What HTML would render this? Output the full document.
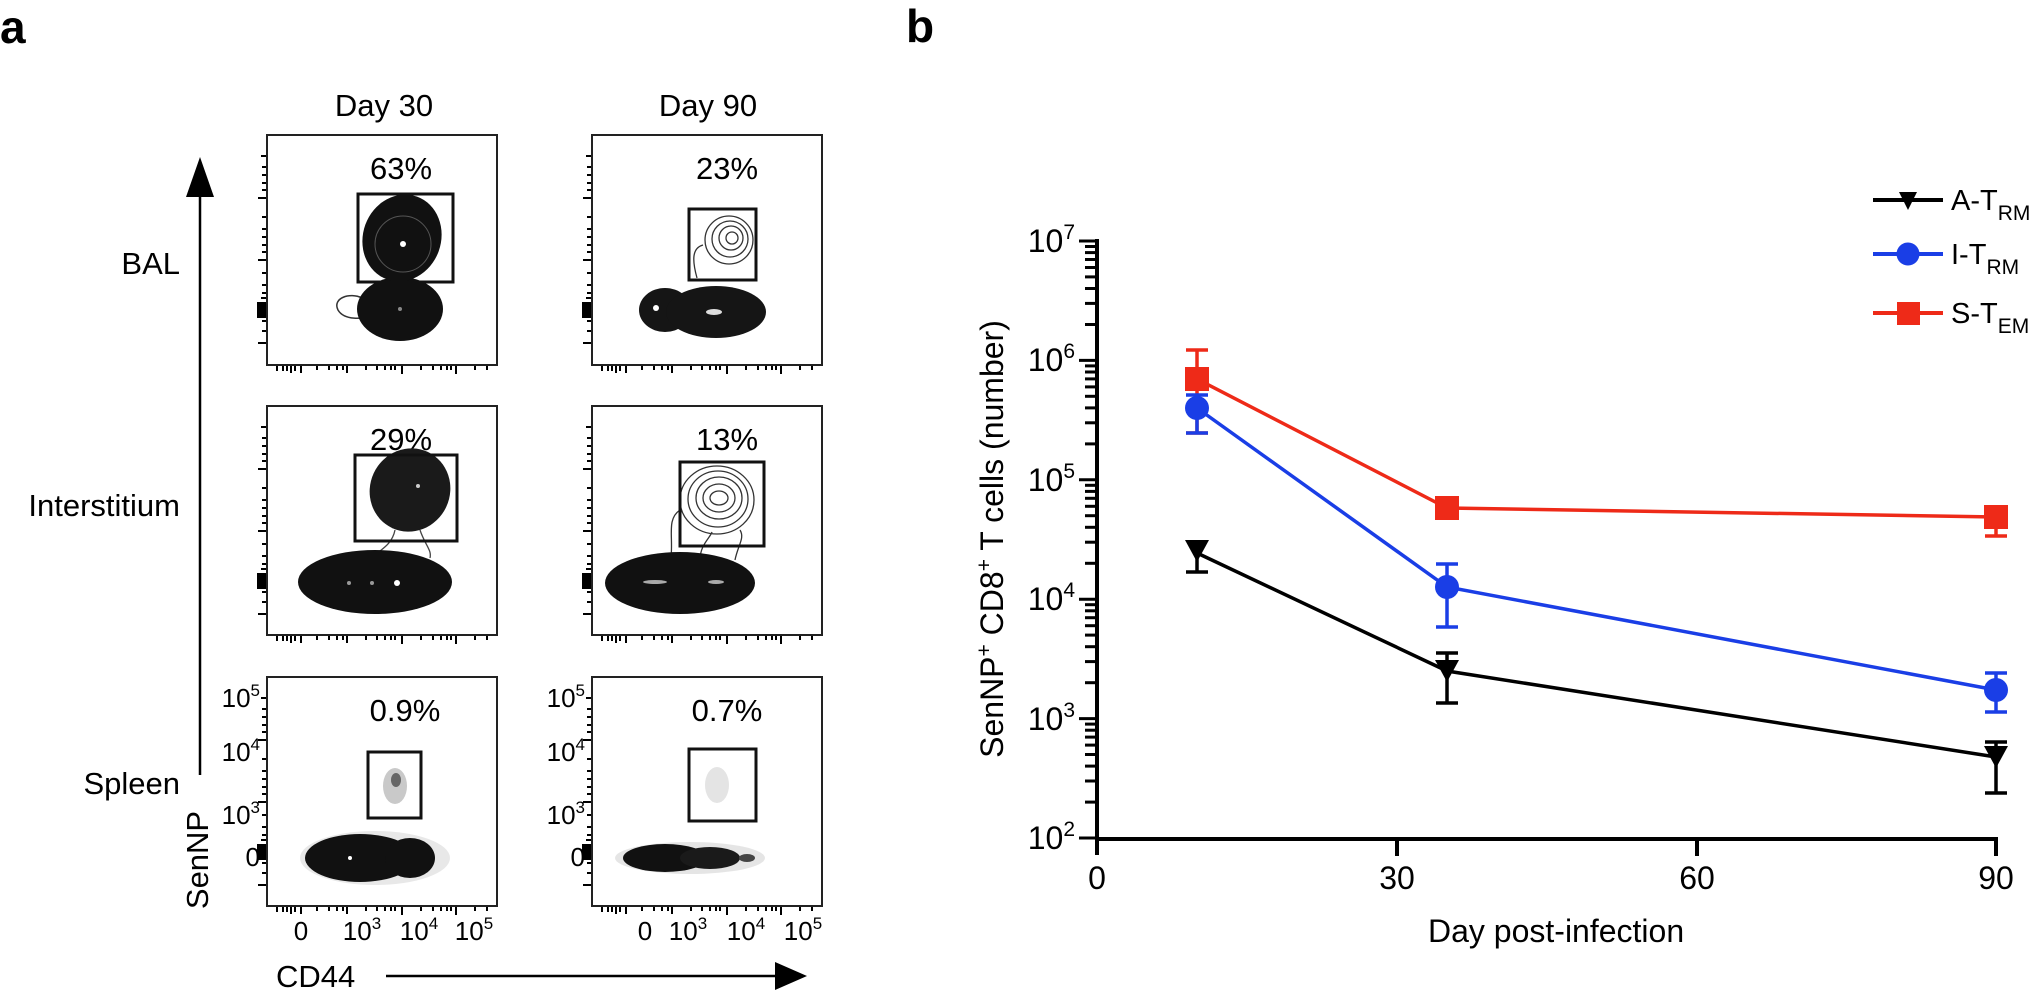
<!DOCTYPE html>
<html><head><meta charset="utf-8"><style>
html,body{margin:0;padding:0;background:#fff;}
svg{display:block;font-family:"Liberation Sans",Arial,sans-serif;}
</style></head><body>
<svg width="2042" height="992" viewBox="0 0 2042 992" xmlns="http://www.w3.org/2000/svg">
<defs>
  <g id="dec" stroke="#000" stroke-width="3">
    <line x1="-12" y1="-35.9" x2="0" y2="-35.9"/>
    <line x1="-12" y1="-57" x2="0" y2="-57"/>
    <line x1="-12" y1="-71.9" x2="0" y2="-71.9"/>
    <line x1="-12" y1="-83.5" x2="0" y2="-83.5"/>
    <line x1="-12" y1="-92.9" x2="0" y2="-92.9"/>
    <line x1="-12" y1="-100.9" x2="0" y2="-100.9"/>
    <line x1="-12" y1="-107.8" x2="0" y2="-107.8"/>
    <line x1="-12" y1="-113.9" x2="0" y2="-113.9"/>
    <line x1="-18" y1="0" x2="0" y2="0"/>
  </g>
  <g id="fticksB" stroke="#000" stroke-width="2">
    <line x1="10" y1="0" x2="10" y2="5"/><line x1="16" y1="0" x2="16" y2="5"/><line x1="20" y1="0" x2="20" y2="5"/>
    <line x1="24" y1="0" x2="24" y2="7"/><line x1="28" y1="0" x2="28" y2="5"/><line x1="34" y1="0" x2="34" y2="7"/>
    <line x1="50" y1="0" x2="50" y2="4"/><line x1="62" y1="0" x2="62" y2="4"/><line x1="70" y1="0" x2="70" y2="4"/><line x1="76" y1="0" x2="76" y2="4"/><line x1="80" y1="0" x2="80" y2="7"/>
    <line x1="99" y1="0" x2="99" y2="4"/><line x1="110" y1="0" x2="110" y2="4"/><line x1="118" y1="0" x2="118" y2="4"/><line x1="124" y1="0" x2="124" y2="4"/><line x1="128" y1="0" x2="128" y2="4"/><line x1="135" y1="0" x2="135" y2="8"/>
    <line x1="154" y1="0" x2="154" y2="4"/><line x1="166" y1="0" x2="166" y2="4"/><line x1="174" y1="0" x2="174" y2="4"/><line x1="180" y1="0" x2="180" y2="4"/><line x1="184" y1="0" x2="184" y2="4"/><line x1="189" y1="0" x2="189" y2="8"/>
    <line x1="208" y1="0" x2="208" y2="4"/><line x1="220" y1="0" x2="220" y2="4"/>
  </g>
  <g id="fticksL" stroke="#000" stroke-width="2">
    <line x1="0" y1="21" x2="-5" y2="21"/><line x1="0" y1="32" x2="-4" y2="32"/><line x1="0" y1="40" x2="-4" y2="40"/><line x1="0" y1="48" x2="-4" y2="48"/><line x1="0" y1="55" x2="-4" y2="55"/><line x1="0" y1="63" x2="-8" y2="63"/>
    <line x1="0" y1="82" x2="-4" y2="82"/><line x1="0" y1="94" x2="-4" y2="94"/><line x1="0" y1="102" x2="-4" y2="102"/><line x1="0" y1="110" x2="-4" y2="110"/><line x1="0" y1="117" x2="-4" y2="117"/><line x1="0" y1="125" x2="-8" y2="125"/>
    <line x1="0" y1="138" x2="-4" y2="138"/><line x1="0" y1="150" x2="-4" y2="150"/><line x1="0" y1="158" x2="-4" y2="158"/><line x1="0" y1="163" x2="-5" y2="163"/>
    <rect x="-8" y="168" width="7" height="14" fill="#000"/><line x1="0" y1="186" x2="-4" y2="186"/><line x1="0" y1="196" x2="-4" y2="196"/><line x1="0" y1="208" x2="-8" y2="208"/>
  </g>
</defs>

<text x="0" y="43" font-size="46" font-weight="bold">a</text>
<text x="906" y="42" font-size="46" font-weight="bold">b</text>

<g font-size="31" text-anchor="middle">
  <text x="384" y="116">Day 30</text>
  <text x="708" y="116">Day 90</text>
</g>
<g font-size="31" text-anchor="end">
  <text x="180" y="274">BAL</text>
  <text x="180" y="516">Interstitium</text>
  <text x="180" y="794">Spleen</text>
</g>
<line x1="200" y1="195" x2="200" y2="775" stroke="#000" stroke-width="2.5"/>
<polygon points="200,157 186,197 214,197" fill="#000"/>
<text transform="translate(208,860) rotate(-90)" font-size="31" text-anchor="middle">SenNP</text>
<text x="276" y="987" font-size="31">CD44</text>
<line x1="386" y1="976" x2="780" y2="976" stroke="#000" stroke-width="2.5"/>
<polygon points="807,976 775,962 775,990" fill="#000"/>

<g fill="none" stroke="#222" stroke-width="2">
  <rect x="267" y="135" width="230" height="230"/>
  <rect x="592" y="135" width="230" height="230"/>
  <rect x="267" y="406" width="230" height="229"/>
  <rect x="592" y="406" width="230" height="229"/>
  <rect x="267" y="677" width="230" height="229"/>
  <rect x="592" y="677" width="230" height="229"/>
</g>
<use href="#fticksB" x="267" y="366"/><use href="#fticksB" x="592" y="366"/>
<use href="#fticksB" x="267" y="636"/><use href="#fticksB" x="592" y="636"/>
<use href="#fticksB" x="267" y="907"/><use href="#fticksB" x="592" y="907"/>
<use href="#fticksL" x="266" y="135"/><use href="#fticksL" x="591" y="135"/>
<use href="#fticksL" x="266" y="406"/><use href="#fticksL" x="591" y="406"/>
<use href="#fticksL" x="266" y="677"/><use href="#fticksL" x="591" y="677"/>

<g font-size="31" text-anchor="middle">
  <text x="401" y="179">63%</text>
  <text x="727" y="179">23%</text>
  <text x="401" y="450">29%</text>
  <text x="727" y="450">13%</text>
  <text x="405" y="721">0.9%</text>
  <text x="727" y="721">0.7%</text>
</g>

<g font-size="26" text-anchor="end">
  <text x="260" y="707">10<tspan font-size="17" dy="-11">5</tspan></text>
  <text x="260" y="761">10<tspan font-size="17" dy="-11">4</tspan></text>
  <text x="260" y="824">10<tspan font-size="17" dy="-11">3</tspan></text>
  <text x="260" y="866">0</text>
  <text x="585" y="707">10<tspan font-size="17" dy="-11">5</tspan></text>
  <text x="585" y="761">10<tspan font-size="17" dy="-11">4</tspan></text>
  <text x="585" y="824">10<tspan font-size="17" dy="-11">3</tspan></text>
  <text x="585" y="866">0</text>
</g>
<g font-size="26" text-anchor="middle">
  <text x="301" y="940">0</text>
  <text x="362" y="940">10<tspan font-size="17" dy="-11">3</tspan></text>
  <text x="419" y="940">10<tspan font-size="17" dy="-11">4</tspan></text>
  <text x="474" y="940">10<tspan font-size="17" dy="-11">5</tspan></text>
  <text x="645" y="940">0</text>
  <text x="688" y="940">10<tspan font-size="17" dy="-11">3</tspan></text>
  <text x="746" y="940">10<tspan font-size="17" dy="-11">4</tspan></text>
  <text x="803" y="940">10<tspan font-size="17" dy="-11">5</tspan></text>
</g>

<g>
  <path d="M338,310 C332,298 350,292 362,298 L375,300 L380,316 C365,318 345,322 338,310 Z" fill="none" stroke="#333" stroke-width="1.5"/>
  <ellipse cx="400" cy="309" rx="43" ry="32" fill="#111"/>
  <ellipse cx="402" cy="238" rx="39" ry="44" transform="rotate(20 402 238)" fill="#111"/>
  <ellipse cx="403" cy="244" rx="28" ry="28" fill="none" stroke="#555" stroke-width="1"/>
  <circle cx="403" cy="244" r="3" fill="#fff"/>
  <circle cx="400" cy="309" r="2" fill="#888"/>
</g>
<rect x="358" y="194" width="95" height="88" fill="none" stroke="#111" stroke-width="3"/>

<g>
  <g fill="none" stroke="#333" stroke-width="1.3">
    <ellipse cx="729" cy="240" rx="24" ry="24"/>
    <ellipse cx="730" cy="239" rx="18" ry="18"/>
    <ellipse cx="731" cy="238" rx="12" ry="12"/>
    <ellipse cx="732" cy="238" rx="6" ry="6"/>
    <path d="M697,278 C692,260 692,248 703,245"/>
  </g>
  <ellipse cx="665" cy="310" rx="26" ry="22" fill="#151515"/>
  <ellipse cx="716" cy="312" rx="50" ry="26" fill="#151515"/>
  <circle cx="656" cy="308" r="3" fill="#fff"/>
  <ellipse cx="714" cy="312" rx="8" ry="3" fill="#ddd"/>
</g>
<rect x="689" y="209" width="67" height="71" fill="none" stroke="#111" stroke-width="3"/>

<g>
  <ellipse cx="410" cy="490" rx="40" ry="42" transform="rotate(25 410 490)" fill="#1a1a1a"/>
  <g fill="none" stroke="#444" stroke-width="1.3">
    <path d="M395,530 C392,545 380,550 375,555"/>
    <path d="M420,530 C425,545 432,550 430,558"/>
  </g>
  <ellipse cx="375" cy="582" rx="77" ry="32" fill="#111"/>
  <circle cx="349" cy="583" r="2" fill="#999"/><circle cx="372" cy="583" r="2" fill="#999"/><circle cx="397" cy="583" r="3" fill="#fff"/>
  <circle cx="418" cy="486" r="2" fill="#ccc"/>
</g>
<rect x="355" y="455" width="102" height="86" fill="none" stroke="#111" stroke-width="3"/>

<g>
  <g fill="none" stroke="#333" stroke-width="1.3">
    <ellipse cx="717" cy="500" rx="37" ry="34"/>
    <ellipse cx="718" cy="499" rx="30" ry="28"/>
    <ellipse cx="719" cy="498" rx="23" ry="21"/>
    <ellipse cx="719" cy="498" rx="16" ry="14"/>
    <ellipse cx="719" cy="498" rx="9" ry="7"/>
    <path d="M670,565 C675,540 665,520 680,510"/>
    <path d="M700,560 C700,545 710,538 712,532"/>
    <path d="M735,560 C738,545 745,538 740,530"/>
  </g>
  <ellipse cx="680" cy="583" rx="75" ry="31" fill="#111"/>
  <ellipse cx="655" cy="582" rx="12" ry="2" fill="#aaa"/><ellipse cx="716" cy="582" rx="8" ry="2" fill="#aaa"/>
</g>
<rect x="680" y="462" width="84" height="84" fill="none" stroke="#111" stroke-width="3"/>

<g>
  <ellipse cx="375" cy="858" rx="75" ry="27" fill="#d8d8d8" opacity="0.6"/>
  <ellipse cx="360" cy="858" rx="55" ry="24" fill="#111"/>
  <ellipse cx="410" cy="858" rx="25" ry="20" fill="#111"/>
  <circle cx="350" cy="858" r="2" fill="#fff"/>
  <ellipse cx="395" cy="786" rx="12" ry="18" fill="#bbb" opacity="0.8"/>
  <ellipse cx="396" cy="780" rx="5" ry="7" fill="#666"/>
</g>
<rect x="368" y="752" width="53" height="66" fill="none" stroke="#111" stroke-width="3"/>

<g>
  <ellipse cx="690" cy="858" rx="75" ry="16" fill="#ccc" opacity="0.5"/>
  <ellipse cx="665" cy="858" rx="42" ry="14" fill="#111"/>
  <ellipse cx="710" cy="858" rx="30" ry="11" fill="#1a1a1a"/>
  <ellipse cx="747" cy="858" rx="8" ry="4" fill="#444"/>
  <ellipse cx="717" cy="785" rx="12" ry="18" fill="#ddd" opacity="0.8"/>
</g>
<rect x="689" y="749" width="67" height="72" fill="none" stroke="#111" stroke-width="3"/>

<!-- Panel b -->
<line x1="1097" y1="239" x2="1097" y2="855" stroke="#000" stroke-width="4"/>
<line x1="1095" y1="839" x2="1998" y2="839" stroke="#000" stroke-width="4"/>
<use href="#dec" x="1097" y="838"/>
<use href="#dec" x="1097" y="718.6"/>
<use href="#dec" x="1097" y="599.2"/>
<use href="#dec" x="1097" y="479.8"/>
<use href="#dec" x="1097" y="360.4"/>
<line x1="1079" y1="241" x2="1097" y2="241" stroke="#000" stroke-width="3"/>
<g stroke="#000" stroke-width="4">
  <line x1="1397" y1="839" x2="1397" y2="856"/>
  <line x1="1697" y1="839" x2="1697" y2="856"/>
  <line x1="1996" y1="839" x2="1996" y2="856"/>
</g>
<g font-size="32" text-anchor="end">
  <text x="1075" y="252">10<tspan font-size="21" dy="-13">7</tspan></text>
  <text x="1075" y="371">10<tspan font-size="21" dy="-13">6</tspan></text>
  <text x="1075" y="491">10<tspan font-size="21" dy="-13">5</tspan></text>
  <text x="1075" y="610">10<tspan font-size="21" dy="-13">4</tspan></text>
  <text x="1075" y="730">10<tspan font-size="21" dy="-13">3</tspan></text>
  <text x="1075" y="849">10<tspan font-size="21" dy="-13">2</tspan></text>
</g>
<g font-size="32" text-anchor="middle">
  <text x="1097" y="889">0</text>
  <text x="1397" y="889">30</text>
  <text x="1697" y="889">60</text>
  <text x="1996" y="889">90</text>
</g>
<text x="1428" y="942" font-size="32">Day post-infection</text>
<text transform="translate(1003,539) rotate(-90)" font-size="32" text-anchor="middle">SenNP<tspan font-size="21" dy="-12">+</tspan><tspan dy="12"> CD8</tspan><tspan font-size="21" dy="-12">+</tspan><tspan dy="12"> T cells (number)</tspan></text>

<polyline points="1197,379 1447,508 1996,517" fill="none" stroke="#ee2a18" stroke-width="3.5"/>
<polyline points="1197,408 1447,587 1996,690" fill="none" stroke="#1a3ee6" stroke-width="3.5"/>
<polyline points="1197,553 1447,671 1996,757" fill="none" stroke="#000" stroke-width="3.5"/>

<g stroke="#ee2a18" stroke-width="3.5">
  <line x1="1197" y1="350" x2="1197" y2="433"/><line x1="1186" y1="350" x2="1208" y2="350"/><line x1="1186" y1="433" x2="1208" y2="433"/>
  <line x1="1996" y1="505" x2="1996" y2="536"/><line x1="1985" y1="536" x2="2007" y2="536"/>
</g>
<g stroke="#1a3ee6" stroke-width="3.5">
  <line x1="1197" y1="395" x2="1197" y2="433"/><line x1="1186" y1="395" x2="1208" y2="395"/><line x1="1186" y1="433" x2="1208" y2="433"/>
  <line x1="1447" y1="564" x2="1447" y2="627"/><line x1="1436" y1="564" x2="1458" y2="564"/><line x1="1436" y1="627" x2="1458" y2="627"/>
  <line x1="1996" y1="673" x2="1996" y2="712"/><line x1="1985" y1="673" x2="2007" y2="673"/><line x1="1985" y1="712" x2="2007" y2="712"/>
</g>
<g stroke="#000" stroke-width="3.5">
  <line x1="1197" y1="540" x2="1197" y2="572"/><line x1="1186" y1="572" x2="1208" y2="572"/>
  <line x1="1447" y1="653" x2="1447" y2="703"/><line x1="1436" y1="653" x2="1458" y2="653"/><line x1="1436" y1="703" x2="1458" y2="703"/>
  <line x1="1996" y1="742" x2="1996" y2="793"/><line x1="1985" y1="742" x2="2007" y2="742"/><line x1="1985" y1="793" x2="2007" y2="793"/>
</g>

<g fill="#ee2a18">
  <rect x="1185" y="367" width="24" height="24"/>
  <rect x="1435" y="496" width="24" height="24"/>
  <rect x="1984" y="505" width="24" height="24"/>
</g>
<g fill="#1a3ee6">
  <circle cx="1197" cy="408" r="12"/>
  <circle cx="1447" cy="587" r="12"/>
  <circle cx="1996" cy="690" r="12"/>
</g>
<g fill="#000">
  <polygon points="1185,540 1209,540 1197,562"/>
  <polygon points="1435,660 1459,660 1447,682"/>
  <polygon points="1984,746 2008,746 1996,768"/>
</g>

<g stroke-width="4">
  <line x1="1873" y1="200" x2="1943" y2="200" stroke="#000"/>
  <line x1="1873" y1="254" x2="1943" y2="254" stroke="#1a3ee6"/>
  <line x1="1873" y1="313" x2="1943" y2="313" stroke="#ee2a18"/>
</g>
<polygon points="1899,192 1917,192 1908,210" fill="#000"/>
<circle cx="1908" cy="254" r="11.5" fill="#1a3ee6"/>
<rect x="1897" y="302" width="23" height="23" fill="#ee2a18"/>
<g font-size="29">
  <text x="1951" y="210">A-T<tspan font-size="21" dy="10">RM</tspan></text>
  <text x="1951" y="264">I-T<tspan font-size="21" dy="10">RM</tspan></text>
  <text x="1951" y="323">S-T<tspan font-size="21" dy="10">EM</tspan></text>
</g>
</svg>
</body></html>
